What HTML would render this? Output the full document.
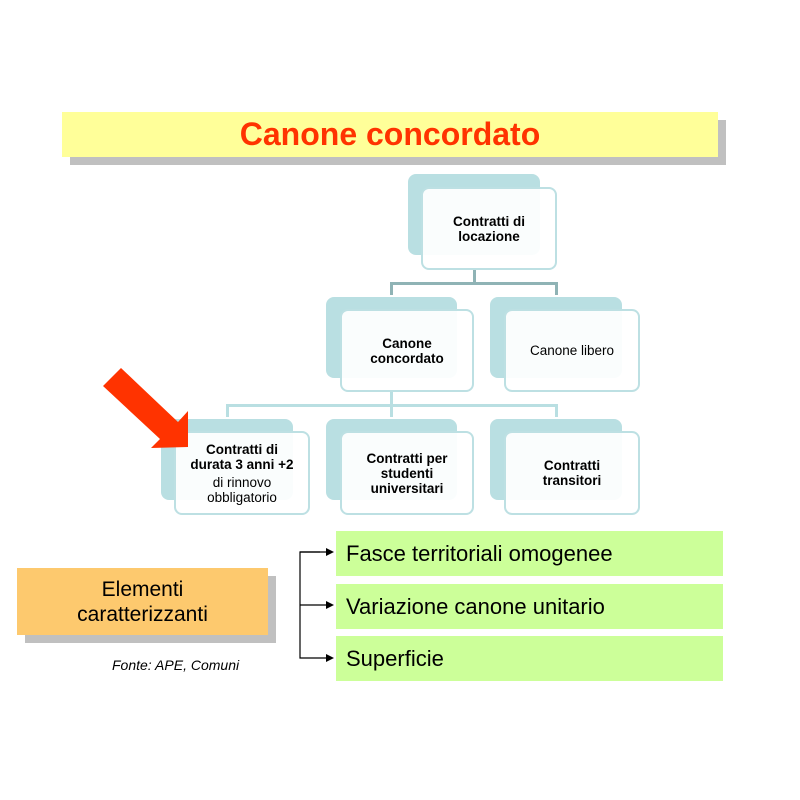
<!DOCTYPE html>
<html><head><meta charset="utf-8"><style>
body{margin:0;width:800px;height:800px;background:#fff;position:relative;font-family:"Liberation Sans",sans-serif;overflow:hidden}
.a{position:absolute}
.back{position:absolute;background:#b9dfe2;border-radius:8px}
.front{position:absolute;background:rgba(255,255,255,0.92);border:2px solid #bde0e3;border-radius:8px;display:flex;align-items:center;justify-content:center;text-align:center;font-size:13.5px;line-height:15px;color:#000;box-sizing:border-box}
.b{font-weight:bold}
.g{position:absolute;left:336px;width:387px;height:45px;background:#ccff99;font-size:22px;line-height:45px;padding-left:10px;box-sizing:border-box}
.ln{position:absolute;background:#8fb3b5}
</style></head><body>
<div class="a" style="left:70px;top:120px;width:656px;height:45px;background:#c0c0c0"></div>
<div class="a" style="left:62px;top:112px;width:656px;height:45px;background:#ffff99;text-align:center;line-height:45px;font-size:32px;font-weight:bold;color:#ff3300">Canone concordato</div>

<div class="ln" style="left:473px;top:270px;width:3px;height:13px"></div>
<div class="ln" style="left:390px;top:282px;width:168px;height:3px"></div>
<div class="ln" style="left:390px;top:282px;width:3px;height:13px"></div>
<div class="ln" style="left:555px;top:282px;width:3px;height:13px"></div>
<div class="ln" style="left:390px;top:392px;width:3px;height:13px;background:#b9dfe2"></div>
<div class="ln" style="left:226px;top:404px;width:332px;height:3px;background:#b9dfe2"></div>
<div class="ln" style="left:226px;top:404px;width:3px;height:13px;background:#b9dfe2"></div>
<div class="ln" style="left:390px;top:404px;width:3px;height:13px;background:#b9dfe2"></div>
<div class="ln" style="left:555px;top:404px;width:3px;height:13px;background:#b9dfe2"></div>

<div class="back" style="left:408px;top:174px;width:132px;height:81px"></div>
<div class="front b" style="left:421px;top:187px;width:136px;height:83px">Contratti di<br>locazione</div>

<div class="back" style="left:326px;top:297px;width:131px;height:81px"></div>
<div class="front b" style="left:340px;top:309px;width:134px;height:83px">Canone<br>concordato</div>
<div class="back" style="left:490px;top:297px;width:132px;height:81px"></div>
<div class="front" style="left:504px;top:309px;width:136px;height:83px">Canone libero</div>

<div class="back" style="left:161px;top:419px;width:132px;height:81px"></div>
<div class="front" style="left:174px;top:431px;width:136px;height:84px"><div><b>Contratti di<br>durata 3 anni +2</b><div style="margin-top:3px">di rinnovo<br>obbligatorio</div></div></div>
<div class="back" style="left:326px;top:419px;width:131px;height:81px"></div>
<div class="front b" style="left:340px;top:431px;width:134px;height:84px">Contratti per<br>studenti<br>universitari</div>
<div class="back" style="left:490px;top:419px;width:132px;height:81px"></div>
<div class="front b" style="left:504px;top:431px;width:136px;height:84px">Contratti<br>transitori</div>

<svg class="a" style="left:0;top:0" width="800" height="800">
<polygon points="103,386 121,368 178,422 188,411 188,447 151,448 160,439" fill="#ff3300"/>
<g stroke="#000" stroke-width="1.2" fill="none"><path d="M320,552 H300 V658 H328 M300,605 H328"/><path d="M300,552 H328"/></g>
<g fill="#000"><polygon points="334,552 326,548 326,556"/><polygon points="334,605 326,601 326,609"/><polygon points="334,658 326,654 326,662"/></g>
</svg>

<div class="a" style="left:25px;top:576px;width:251px;height:67px;background:#c0c0c0"></div>
<div class="a" style="left:17px;top:568px;width:251px;height:67px;background:#fdc96e;text-align:center;font-size:21px;line-height:25px;padding-top:9px;box-sizing:border-box">Elementi<br>caratterizzanti</div>
<div class="a" style="left:112px;top:657px;font-size:14px;font-style:italic">Fonte: APE, Comuni</div>

<div class="g" style="top:531px">Fasce territoriali omogenee</div>
<div class="g" style="top:584px">Variazione canone unitario</div>
<div class="g" style="top:636px">Superficie</div>
</body></html>
